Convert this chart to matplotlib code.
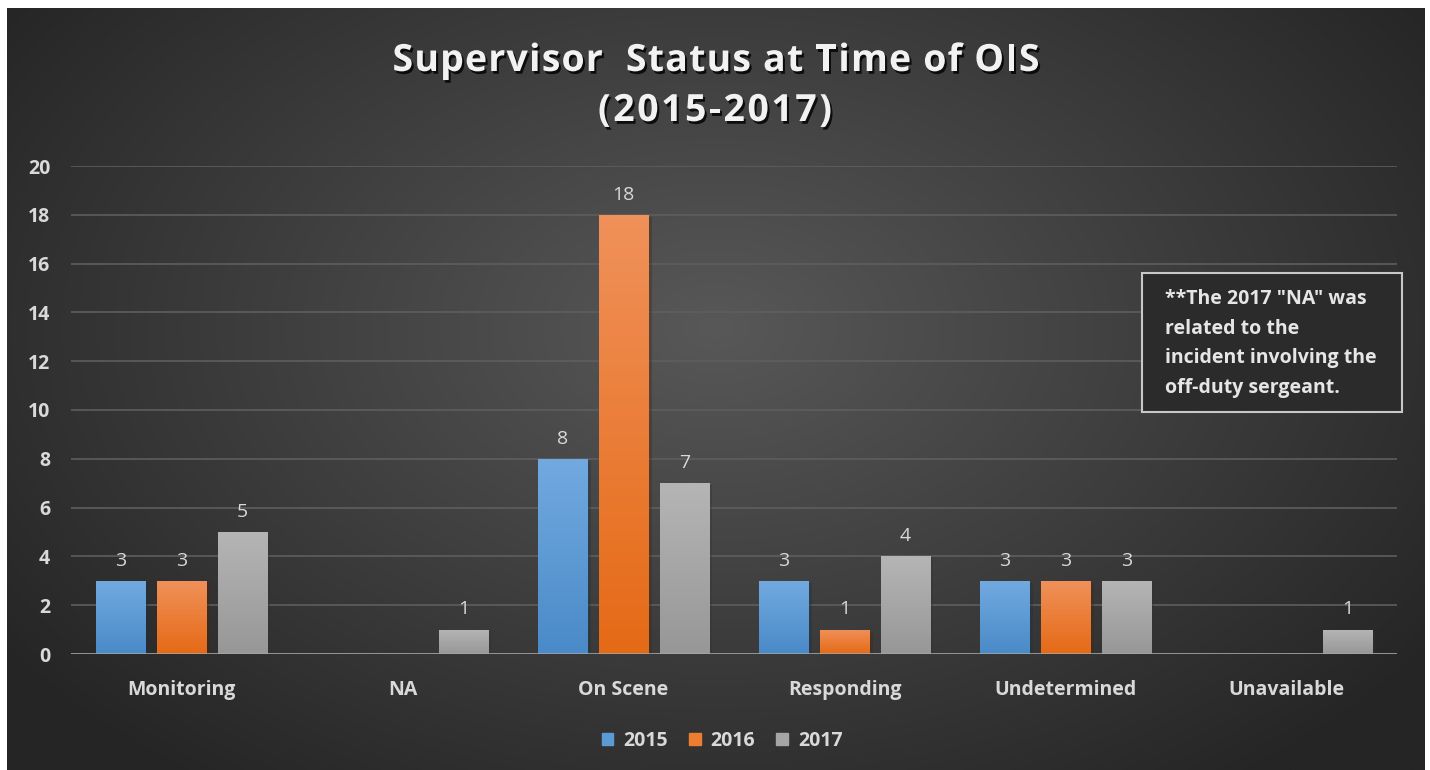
import numpy as np
import matplotlib
matplotlib.use("Agg")
import matplotlib.pyplot as plt
import matplotlib.patheffects as pe
from matplotlib.patches import Rectangle
from matplotlib.font_manager import FontProperties

categories = ["Monitoring", "NA", "On Scene", "Responding", "Undetermined", "Unavailable"]
years = ["2015", "2016", "2017"]
v2015 = [3, 0, 8, 3, 3, 0]
v2016 = [3, 0, 18, 1, 3, 0]
v2017 = [5, 1, 7, 4, 3, 1]
series = [v2015, v2016, v2017]
yticks = [0, 2, 4, 6, 8, 10, 12, 14, 16, 18, 20]
title_lines = ["Supervisor  Status at Time of OIS", "(2015-2017)"]
note_lines = ['**The 2017 "NA" was', "related to the", "incident involving the", "off-duty sergeant."]

base_colors = ["#5b9bd5", "#ed7d31", "#a5a5a5"]
top_colors = ["#72aae0", "#f0915a", "#b5b5b5"]
bot_colors = ["#4a8ac8", "#e56a16", "#979797"]

FONT = "Open Sans"
W, H = 1430, 770
fig = plt.figure(figsize=(W / 100, H / 100), dpi=100, facecolor="white")
renderer = fig.canvas.get_renderer()

# background with radial gradient
bg = fig.add_axes([7 / W, 0, (1425 - 7) / W, (770 - 8) / H])
bg.set_axis_off()
yy, xx = np.mgrid[0:1:300j, 0:1:560j]
r = np.sqrt(((xx - 0.5) / 0.62) ** 2 + ((yy - 0.42) / 0.75) ** 2)
r = np.clip(r, 0, 1)
dark = np.array([0x25, 0x25, 0x25]) / 255
light = np.array([0x58, 0x58, 0x58]) / 255
img = light[None, None, :] * (1 - r[..., None]) + dark[None, None, :] * r[..., None]
bg.imshow(img, aspect="auto", extent=[0, 1, 0, 1], origin="upper")
bg.set_xlim(0, 1)
bg.set_ylim(0, 1)

ax = fig.add_axes([71 / W, 1 - 654 / H, (1397 - 71) / W, (654 - 166) / H])
ax.patch.set_alpha(0)
x = np.arange(len(categories))
bw = 0.222
pitch = 0.276
ax.set_yticks(yticks)
ax.yaxis.grid(True, color="#5e5e5e", lw=1.2)
ax.set_axisbelow(True)
for s in ["top", "right", "left", "bottom"]:
    ax.spines[s].set_visible(False)
ax.axhline(0, color="#a6a6a6", lw=1.8, zorder=4)

grad = np.linspace(0, 1, 100)[:, None]
for i, (vals, yr) in enumerate(zip(series, years)):
    pos = x + (i - 1) * pitch
    bars = ax.bar(pos, vals, width=bw, color=base_colors[i], label=yr, zorder=3,
                  path_effects=[pe.SimplePatchShadow(offset=(2.5, -1.5), alpha=0.35), pe.Normal()])
    c1 = np.array(matplotlib.colors.to_rgb(top_colors[i]))
    c2 = np.array(matplotlib.colors.to_rgb(bot_colors[i]))
    gimg = c1[None, None, :] * (1 - grad[..., None]) + c2[None, None, :] * grad[..., None]
    for b, v in zip(bars, vals):
        if v > 0:
            im = ax.imshow(gimg, aspect="auto", origin="upper",
                           extent=[b.get_x(), b.get_x() + b.get_width(), 0, v], zorder=3.5)
            im.set_clip_path(b)
            ax.annotate(str(v), (b.get_x() + b.get_width() / 2, v), xytext=(0, 8),
                        textcoords="offset points", ha="center", va="bottom",
                        color="#d9d9d9", fontsize=14, family=FONT)
ax.set_xlim(-0.5, len(categories) - 0.5)
ax.set_ylim(0, 20)

ax.set_xticks(x)
ax.set_xticklabels(categories, fontsize=14, fontweight="bold", color="#d9d9d9", family=FONT)
ax.set_yticklabels([str(t) for t in yticks], fontsize=14, fontweight="bold", color="#d9d9d9", family=FONT)
ax.tick_params(axis="both", length=0)
ax.tick_params(axis="x", pad=19)
ax.tick_params(axis="y", pad=15)


def tracked_text(s, xc_px, yc_px, target_w, fp, **kw):
    widths = [renderer.get_text_width_height_descent(ch, fp, ismath=False)[0] for ch in s]
    natural = sum(widths)
    track = (target_w - natural) / max(len(s) - 1, 1)
    xpos = xc_px - target_w / 2
    for ch, w in zip(s, widths):
        if ch != " ":
            fig.text(xpos / W, 1 - yc_px / H, ch, ha="left", va="baseline",
                     fontproperties=fp, **kw)
        xpos += w + track


tfp = FontProperties(family=FONT, weight="bold", size=27)
shadow = [pe.withSimplePatchShadow(offset=(1.5, -2), shadow_rgbFace="black", alpha=0.8)]
tracked_text(title_lines[0], 716, 71, 647, tfp, color="#f2f2f2", path_effects=shadow)
tracked_text(title_lines[1], 715, 121, 234, tfp, color="#f2f2f2", path_effects=shadow)

# note box
fig.patches.append(Rectangle((1142 / W, 1 - 412 / H), (1402 - 1142) / W, (412 - 273) / H,
                             transform=fig.transFigure, facecolor="#2b2b2b", edgecolor="#c8c8c8",
                             lw=1.5, zorder=5))
for k, line in enumerate(note_lines):
    fig.text(1165 / W, 1 - (299 + 29.7 * k) / H, line, ha="left", va="center", fontsize=14,
             fontweight="bold", color="#e6e6e6", family=FONT, zorder=6)

handles = [Rectangle((0, 0), 1, 1, color=c) for c in base_colors]
fig.legend(handles, years, loc="center", bbox_to_anchor=(722 / W, 1 - 741 / H), ncol=3,
           frameon=False, prop={"family": FONT, "weight": "bold", "size": 14},
           labelcolor="#d9d9d9", handlelength=0.6, handleheight=0.6, handletextpad=0.5,
           columnspacing=1.1)

fig.savefig("out.png", dpi=100, facecolor="white")
